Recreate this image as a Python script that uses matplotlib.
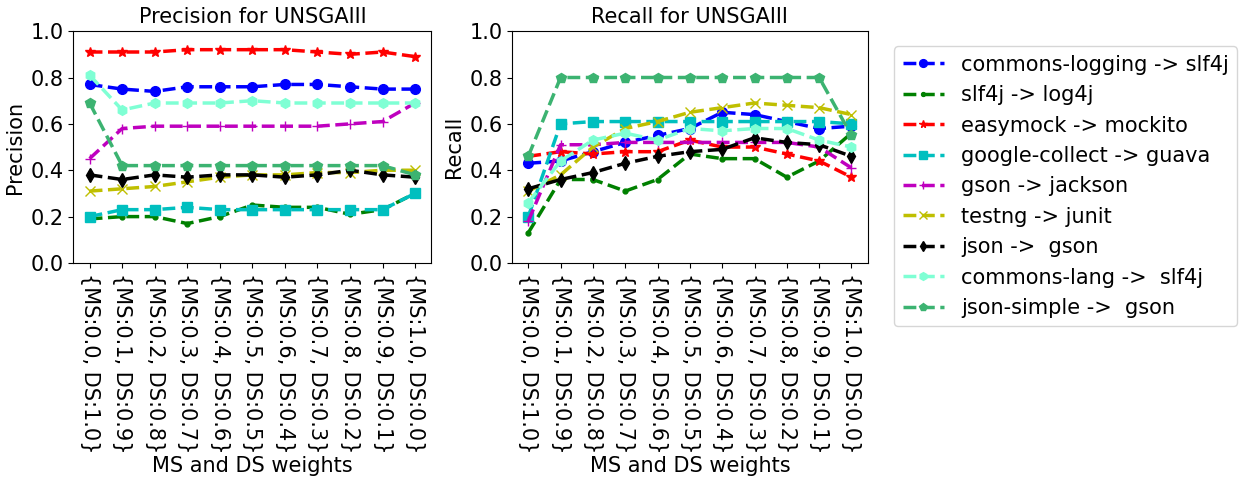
import matplotlib
matplotlib.use("Agg")
import matplotlib.pyplot as plt

# Données
poids = ["{MS:0.0, DS:1.0}", "{MS:0.1, DS:0.9}", "{MS:0.2, DS:0.8}", "{MS:0.3, DS:0.7}",
         "{MS:0.4, DS:0.6}", "{MS:0.5, DS:0.5}", "{MS:0.6, DS:0.4}", "{MS:0.7, DS:0.3}",
         "{MS:0.8, DS:0.2}", "{MS:0.9, DS:0.1}", "{MS:1.0, DS:0.0}"]

migrations = ["commons-logging -> slf4j", "slf4j -> log4j", "easymock -> mockito",
              "google-collect -> guava", "gson -> jackson", "testng -> junit",
              "json ->  gson", "commons-lang ->  slf4j", "json-simple ->  gson"]

precision = [
    [0.77, 0.75, 0.74, 0.76, 0.76, 0.76, 0.77, 0.77, 0.76, 0.75, 0.75],
    [0.19, 0.20, 0.20, 0.17, 0.20, 0.25, 0.24, 0.24, 0.21, 0.23, 0.30],
    [0.91, 0.91, 0.91, 0.92, 0.92, 0.92, 0.92, 0.91, 0.90, 0.91, 0.89],
    [0.20, 0.23, 0.23, 0.24, 0.23, 0.23, 0.23, 0.23, 0.23, 0.23, 0.30],
    [0.45, 0.58, 0.59, 0.59, 0.59, 0.59, 0.59, 0.59, 0.60, 0.61, 0.69],
    [0.31, 0.32, 0.33, 0.35, 0.37, 0.38, 0.38, 0.39, 0.39, 0.40, 0.40],
    [0.38, 0.36, 0.38, 0.37, 0.38, 0.38, 0.37, 0.38, 0.40, 0.38, 0.37],
    [0.81, 0.66, 0.69, 0.69, 0.69, 0.70, 0.69, 0.69, 0.69, 0.69, 0.69],
    [0.69, 0.42, 0.42, 0.42, 0.42, 0.42, 0.42, 0.42, 0.42, 0.42, 0.38],
]

recall = [
    [0.43, 0.44, 0.48, 0.52, 0.55, 0.58, 0.65, 0.64, 0.61, 0.58, 0.59],
    [0.13, 0.36, 0.36, 0.31, 0.36, 0.47, 0.45, 0.45, 0.37, 0.44, 0.56],
    [0.46, 0.48, 0.47, 0.48, 0.48, 0.53, 0.50, 0.50, 0.47, 0.44, 0.37],
    [0.20, 0.60, 0.61, 0.61, 0.61, 0.61, 0.61, 0.61, 0.61, 0.61, 0.60],
    [0.18, 0.51, 0.51, 0.52, 0.52, 0.52, 0.52, 0.52, 0.52, 0.50, 0.41],
    [0.31, 0.38, 0.50, 0.58, 0.61, 0.65, 0.67, 0.69, 0.68, 0.67, 0.64],
    [0.32, 0.36, 0.39, 0.43, 0.46, 0.48, 0.49, 0.54, 0.52, 0.51, 0.46],
    [0.26, 0.44, 0.53, 0.56, 0.53, 0.58, 0.57, 0.58, 0.58, 0.53, 0.50],
    [0.46, 0.80, 0.80, 0.80, 0.80, 0.80, 0.80, 0.80, 0.80, 0.80, 0.55],
]

couleurs = ["b", "g", "r", "c", "m", "y", "k", "aquamarine", "mediumseagreen"]
marqueurs = ["o", ".", "*", "s", "+", "x", "d", "h", "p"]

plt.rcParams["font.size"] = 15

fig = plt.figure(figsize=(12.43, 4.79), dpi=100)
ax1 = fig.add_axes([0.059, 0.451, 0.288, 0.484])
ax2 = fig.add_axes([0.412, 0.451, 0.286, 0.484])

x = range(len(poids))
for ax, donnees, titre, ylab in [(ax1, precision, "Precision for UNSGAIII", "Precision"),
                                 (ax2, recall, "Recall for UNSGAIII", "Recall")]:
    for i, serie in enumerate(donnees):
        ax.plot(x, serie, color=couleurs[i], marker=marqueurs[i], linestyle="--",
                linewidth=2.5, markersize=7, label=migrations[i])
    ax.set_ylim(0, 1.0)
    ax.set_xticks(list(x))
    ax.set_xticklabels(poids, rotation=-90)
    ax.set_title(titre, fontsize=15)
    ax.set_ylabel(ylab)
    ax.set_xlabel("MS and DS weights", labelpad=2)

handles, labels = ax1.get_legend_handles_labels()
fig.legend(handles, labels, loc="upper left", bbox_to_anchor=(0.711, 0.925),
           fontsize=15, markerscale=0.8)

plt.savefig("out.png", dpi=100)
